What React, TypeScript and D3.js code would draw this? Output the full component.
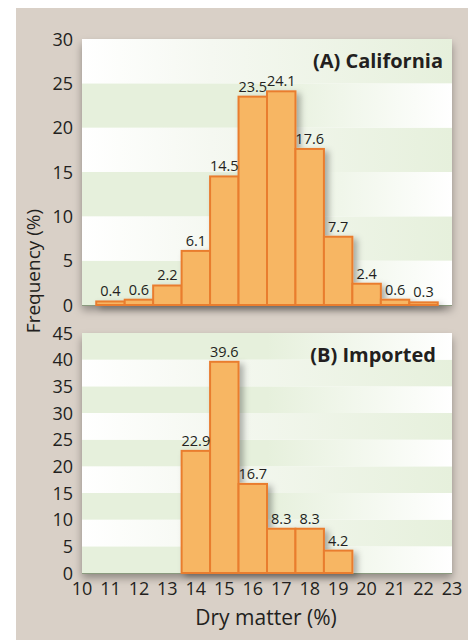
import React, { useEffect, useRef } from 'react';
import * as d3 from 'd3';

// dry matter bins (%), one bar per integer centre
const californiaBins = [11, 12, 13, 14, 15, 16, 17, 18, 19, 20, 21, 22];
const californiaFreq = [0.4, 0.6, 2.2, 6.1, 14.5, 23.5, 24.1, 17.6, 7.7, 2.4, 0.6, 0.3];
const importedBins = [14, 15, 16, 17, 18, 19];
const importedFreq = [22.9, 39.6, 16.7, 8.3, 8.3, 4.2];
const xTicks = [10, 11, 12, 13, 14, 15, 16, 17, 18, 19, 20, 21, 22, 23];
const californiaTicks = [0, 5, 10, 15, 20, 25, 30];
const importedTicks = [0, 5, 10, 15, 20, 25, 30, 35, 40, 45];

const FONT = "'Open Sans', 'Noto Sans', sans-serif";
const TEXT = '#231f20';
const BAR_FILL = '#f7b664';
const BAR_STROKE = '#e97d2f';
const GREEN = '#e6f0dc';

const App: React.FC = () => {
  const svgRef = useRef<SVGSVGElement>(null);

  useEffect(() => {
    if (!svgRef.current) return;
    const svg = d3.select(svgRef.current);
    svg.selectAll('*').remove();

    const defs = svg.append('defs');
    const gA = defs.append('linearGradient').attr('id', 'bandA');
    gA.append('stop').attr('offset', '0%').attr('stop-color', GREEN);
    gA.append('stop').attr('offset', '50%').attr('stop-color', GREEN);
    gA.append('stop').attr('offset', '100%').attr('stop-color', '#ffffff');
    const gB = defs.append('linearGradient').attr('id', 'bandB');
    gB.append('stop').attr('offset', '0%').attr('stop-color', '#ffffff');
    gB.append('stop').attr('offset', '35%').attr('stop-color', '#f5f8f1');
    gB.append('stop').attr('offset', '100%').attr('stop-color', GREEN);

    const plotShadow = defs.append('filter').attr('id', 'plotShadow')
      .attr('x', '-10%').attr('y', '-10%').attr('width', '120%').attr('height', '130%');
    plotShadow.append('feDropShadow').attr('dx', 0).attr('dy', 5)
      .attr('stdDeviation', 4).attr('flood-color', '#000').attr('flood-opacity', 0.35);
    const barShadow = defs.append('filter').attr('id', 'barShadow')
      .attr('x', '-20%').attr('y', '-20%').attr('width', '150%').attr('height', '150%');
    barShadow.append('feDropShadow').attr('dx', 4).attr('dy', 3)
      .attr('stdDeviation', 3).attr('flood-color', '#000').attr('flood-opacity', 0.3);

    // beige card
    svg.append('rect').attr('x', 16).attr('y', 8).attr('width', 452).attr('height', 640)
      .attr('fill', '#d9d0c7');

    const x = d3.scaleLinear().domain([10, 23]).range([82, 452]);

    const drawPanel = (
      bins: number[], freq: number[], ticks: number[], yMax: number,
      top: number, bottom: number, title: string, titleX: number, titleY: number, showX: boolean
    ) => {
      const y = d3.scaleLinear().domain([0, yMax]).range([bottom, top]);
      const g = svg.append('g');

      g.append('rect')
        .attr('x', x(10)).attr('y', y(yMax))
        .attr('width', x(23) - x(10)).attr('height', y(0) - y(yMax))
        .attr('fill', '#fff').attr('filter', 'url(#plotShadow)');

      d3.range(0, yMax, 5).forEach((lo, k) => {
        g.append('rect')
          .attr('x', x(10)).attr('y', y(lo + 5))
          .attr('width', x(23) - x(10)).attr('height', y(lo) - y(lo + 5))
          .attr('fill', k % 2 === 0 ? 'url(#bandA)' : 'url(#bandB)');
      });

      g.append('line')
        .attr('x1', x(10)).attr('x2', x(23)).attr('y1', y(0) + 0.5).attr('y2', y(0) + 0.5)
        .attr('stroke', '#8a9a7e').attr('stroke-width', 1.2);

      g.append('g').attr('filter', 'url(#barShadow)')
        .selectAll('rect').data(bins).join('rect')
        .attr('x', d => x(d - 0.5)).attr('y', (_, i) => y(freq[i]))
        .attr('width', d => x(d + 0.5) - x(d - 0.5))
        .attr('height', (_, i) => y(0) - y(freq[i]))
        .attr('fill', BAR_FILL).attr('stroke', BAR_STROKE).attr('stroke-width', 2);

      g.append('g').selectAll('text').data(bins).join('text')
        .attr('x', d => x(d)).attr('y', (_, i) => y(freq[i]) - 5)
        .attr('text-anchor', 'middle')
        .attr('font-family', FONT).attr('font-size', 14.5).attr('fill', TEXT)
        .text((_, i) => freq[i].toFixed(1));

      g.append('g').selectAll('text').data(ticks).join('text')
        .attr('x', 73).attr('y', d => y(d) + 6.5)
        .attr('text-anchor', 'end')
        .attr('font-family', FONT).attr('font-size', 18).attr('fill', TEXT)
        .text(d => d);

      if (showX) {
        g.append('g').selectAll('text').data(xTicks).join('text')
          .attr('x', d => x(d)).attr('y', y(0) + 22)
          .attr('text-anchor', 'middle')
          .attr('font-family', FONT).attr('font-size', 18).attr('fill', TEXT)
          .text(d => d);
      }

      g.append('text')
        .attr('x', titleX).attr('y', titleY)
        .attr('text-anchor', 'end')
        .attr('font-family', FONT).attr('font-size', 20).attr('font-weight', 700)
        .attr('fill', TEXT)
        .text(title);
    };

    drawPanel(californiaBins, californiaFreq, californiaTicks, 30, 39, 305,
      '(A) California', 443, 68, false);
    drawPanel(importedBins, importedFreq, importedTicks, 45, 333, 573,
      '(B) Imported', 436, 362, true);

    svg.append('text')
      .attr('transform', 'translate(40,271) rotate(-90)')
      .attr('text-anchor', 'middle')
      .attr('font-family', FONT).attr('font-size', 19).attr('fill', TEXT)
      .text('Frequency (%)');

    svg.append('text')
      .attr('x', 266).attr('y', 625)
      .attr('text-anchor', 'middle')
      .attr('font-family', FONT).attr('font-size', 21).attr('fill', TEXT)
      .text('Dry matter (%)');
  }, []);

  return (
    <svg ref={svgRef} width={476} height={640}
      style={{ position: 'absolute', left: 0, top: 0, background: '#fff' }} />
  );
};

export default App;
